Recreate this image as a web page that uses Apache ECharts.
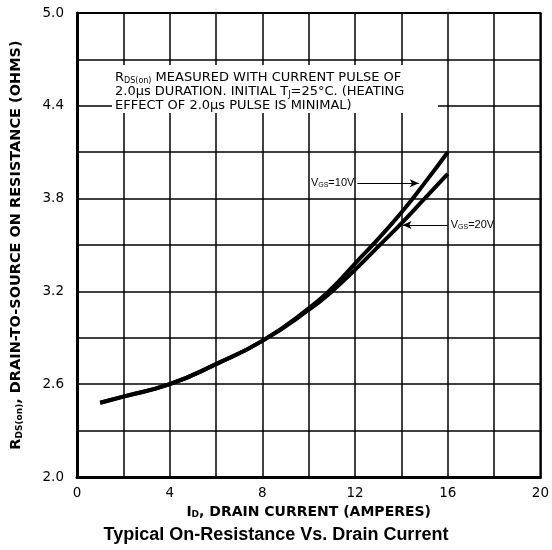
<!DOCTYPE html>
<html>
<head>
<meta charset="utf-8">
<script src="https://cdn.jsdelivr.net/npm/echarts@6/dist/echarts.min.js"></script>
<style>
html,body{margin:0;padding:0;background:#fff;}
#c{width:552px;height:550px;}
</style>
</head>
<body>
<div id="c"></div>
<script>
// ---- data ----
const currentA = [1, 2, 4, 6, 8, 10, 11, 12, 13, 14, 15, 16];
const rds10V   = [2.48, 2.52, 2.60, 2.73, 2.88, 3.09, 3.22, 3.38, 3.54, 3.71, 3.90, 4.10];
const rds20V   = [2.48, 2.52, 2.60, 2.73, 2.88, 3.08, 3.20, 3.34, 3.49, 3.64, 3.80, 3.96];
const xTickLabels = ['0', '4', '8', '12', '16', '20'];
const yTickLabels = ['2.0', '2.6', '3.2', '3.8', '4.4', '5.0'];
const arrow10V = [[12.1, 3.9], [14.75, 3.9]];
const arrow20V = [[16.0, 3.63], [14.05, 3.63]];
const noteLines = [
  '{t|R}{s|DS(on)}{t| MEASURED WITH CURRENT PULSE OF}',
  '{t|2.0μs DURATION. INITIAL T}{s|J}{t|=25°C. (HEATING}',
  '{t|EFFECT OF 2.0μs PULSE IS MINIMAL)}'
];

const FONT = '"Liberation Sans", Arial, Helvetica, sans-serif';
const WIDE = '"DejaVu Sans", Verdana, sans-serif';
const chart = echarts.init(document.getElementById('c'), null, {renderer: 'canvas'});

function pairs(xs, ys) { return xs.map((x, i) => [x, ys[i]]); }

const vgsRich = {
  v: {fontFamily: FONT, fontSize: 11, color: '#000'},
  s: {fontFamily: FONT, fontSize: 7, color: '#000', verticalAlign: 'bottom', padding: [3, 0, 0, 0]}
};

function arrowLine(pts, text) {
  return {
    silent: true,
    symbol: ['none', 'arrow'],
    symbolSize: [6, 9],
    lineStyle: {color: '#000', width: 1, type: 'solid'},
    label: {show: true, position: 'start', distance: 3, formatter: text, rich: vgsRich},
    data: [[{coord: pts[0]}, {coord: pts[1]}]],
    animation: false
  };
}

function titleRich(size) {
  return {
    t: {fontFamily: WIDE, fontSize: size, fontWeight: 'bold', color: '#000'},
    s: {fontFamily: WIDE, fontSize: Math.round(size * 0.62), fontWeight: 'bold', color: '#000', verticalAlign: 'bottom', padding: [4, 0, 0, 0]}
  };
}

const option = {
  backgroundColor: '#fff',
  animation: false,
  title: {
    text: 'Typical On-Resistance Vs. Drain Current',
    left: 'center',
    top: 521,
    textStyle: {fontFamily: FONT, fontSize: 18, fontWeight: 'bold', color: '#000'}
  },
  grid: {
    left: 77, right: 11, top: 13, bottom: 73,
    show: true, borderColor: '#000', borderWidth: 2, backgroundColor: 'transparent'
  },
  xAxis: {
    type: 'value', min: 0, max: 20, interval: 2,
    name: '{t|I}{s|D}{t|, DRAIN CURRENT (AMPERES)}',
    nameLocation: 'middle', nameGap: 27,
    nameTextStyle: {rich: titleRich(14)},
    axisLine: {show: true, onZero: false, lineStyle: {color: '#000', width: 3}},
    axisTick: {show: false},
    axisLabel: {
      margin: 9, fontFamily: WIDE, fontSize: 13.5, color: '#000',
      formatter: function (v) {
        const i = xTickLabels.indexOf(String(Math.round(v)));
        return (Math.abs(v - Math.round(v)) < 1e-6 && i >= 0) ? xTickLabels[i] : '';
      }
    },
    splitLine: {show: true, lineStyle: {color: '#000', width: 1.5}}
  },
  yAxis: {
    type: 'value', min: 2.0, max: 5.0, interval: 0.3,
    name: '{t|R}{s|DS(on)}{t|, DRAIN-TO-SOURCE ON RESISTANCE (OHMS)}',
    nameLocation: 'middle', nameGap: 53, nameRotate: 90,
    nameTextStyle: {rich: titleRich(14.5)},
    axisLine: {show: true, lineStyle: {color: '#000', width: 3}},
    axisTick: {show: false},
    axisLabel: {
      margin: 13, fontFamily: WIDE, fontSize: 13.5, color: '#000',
      formatter: function (v) {
        const s = v.toFixed(1);
        return yTickLabels.indexOf(s) >= 0 ? s : '';
      }
    },
    splitLine: {show: true, lineStyle: {color: '#000', width: 1.5}}
  },
  graphic: [{
    type: 'group', z: 5,
    children: [
      {type: 'rect', z: 5, shape: {x: 112, y: 65, width: 326, height: 48}, style: {fill: '#fff'}},
      {
        type: 'text', z: 6, left: 115, top: 71,
        style: {
          text: noteLines.join('\n'),
          lineHeight: 14,
          rich: {
            t: {fontFamily: WIDE, fontSize: 13, color: '#000', lineHeight: 14},
            s: {fontFamily: WIDE, fontSize: 8, color: '#000', verticalAlign: 'bottom', padding: [3, 0, 0, 0], lineHeight: 14}
          }
        }
      }
    ]
  }],
  series: [
    {
      name: 'VGS=10V', type: 'line', smooth: true, symbol: 'none', z: 10,
      lineStyle: {color: '#000', width: 4},
      data: pairs(currentA, rds10V),
      markLine: arrowLine(arrow10V, '{v|V}{s|GS}{v|=10V}')
    },
    {
      name: 'VGS=20V', type: 'line', smooth: true, symbol: 'none', z: 10,
      lineStyle: {color: '#000', width: 4},
      data: pairs(currentA, rds20V),
      markLine: arrowLine(arrow20V, '{v|V}{s|GS}{v|=20V}')
    }
  ]
};
chart.setOption(option);
</script>
</body>
</html>
